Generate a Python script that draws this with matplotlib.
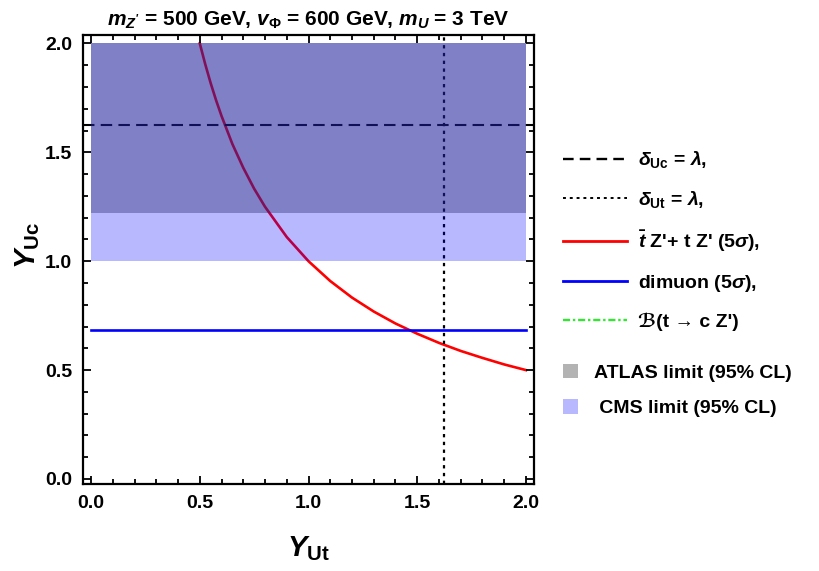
import numpy as np
import matplotlib
matplotlib.use("Agg")
import matplotlib.pyplot as plt
from matplotlib.lines import Line2D
from matplotlib.patches import Patch
from matplotlib.ticker import MultipleLocator

plt.rcParams['font.family'] = ['Liberation Sans', 'DejaVu Sans']
plt.rcParams['font.weight'] = 'bold'
plt.rcParams['mathtext.fontset'] = 'custom'
plt.rcParams['mathtext.rm'] = 'Liberation Sans:bold'
plt.rcParams['mathtext.bf'] = 'Liberation Sans:bold'
plt.rcParams['mathtext.it'] = 'Liberation Sans:italic:bold'
plt.rcParams['mathtext.sf'] = 'Liberation Sans:bold'
plt.rcParams['mathtext.cal'] = 'DejaVu Sans:italic'

# ---- data ----
red_x = [0.5, 0.525, 0.55, 0.575, 0.6, 0.65, 0.7, 0.75, 0.8, 0.9, 1.0, 1.1, 1.2,
         1.3, 1.4, 1.5, 1.6, 1.7, 1.8, 1.9, 2.0]
red_y = [2.0, 1.905, 1.818, 1.739, 1.667, 1.538, 1.429, 1.333, 1.25, 1.111, 1.0,
         0.909, 0.833, 0.769, 0.714, 0.667, 0.625, 0.588, 0.556, 0.526, 0.5]
dimuon_y = 0.685
delta_uc = 1.625
delta_ut = 1.625
cms_band = (1.0, 2.0)
atlas_band = (1.22, 2.0)
band_x = (0.0, 2.0)
xticks = [0.0, 0.5, 1.0, 1.5, 2.0]
yticks = [0.0, 0.5, 1.0, 1.5, 2.0]

fig = plt.figure(figsize=(8.19, 5.71), dpi=100)
ax = fig.add_axes([83/819, 1-484/571, (534-83)/819, (484-34.5)/571])
ax.set_xlim(-0.037, 2.037)
ax.set_ylim(-0.023, 2.041)

# lines (drawn beneath shading)
ax.plot(red_x, red_y, color='red', lw=1.9, zorder=1)
ax.axhline(delta_uc, color='black', lw=1.5, ls=(0, (5.5, 3)), zorder=1)
ax.axvline(delta_ut, color='black', lw=1.6, ls=(0, (1.5, 2)), zorder=1)

# shading
ax.fill_between(band_x, cms_band[0], cms_band[1], color=(0, 0, 1), alpha=0.28, lw=0, zorder=2)
ax.fill_between(band_x, atlas_band[0], atlas_band[1], color=(44/255, 44/255, 117/255),
                alpha=0.4, lw=0, zorder=3)

ax.plot(band_x, [dimuon_y, dimuon_y], color=(0, 0, 1), lw=1.9, zorder=4)

# ticks
ax.set_xticks(xticks)
ax.set_yticks(yticks)
ax.set_xticklabels([f"{t:.1f}" for t in xticks])
ax.set_yticklabels([f"{t:.1f}" for t in yticks])
ax.xaxis.set_minor_locator(MultipleLocator(0.1))
ax.yaxis.set_minor_locator(MultipleLocator(0.1))
ax.tick_params(which='both', direction='in', top=True, right=True, width=1.3)
ax.tick_params(which='major', length=6, labelsize=14, pad=8)
ax.tick_params(which='minor', length=3.5)
for lab in ax.get_xticklabels() + ax.get_yticklabels():
    lab.set_fontweight('bold')
for s in ax.spines.values():
    s.set_linewidth(1.6)

ax.set_title(r"$m_{Z'}$ = 500 GeV, $v_{\Phi}$ = 600 GeV, $m_{U}$ = 3 TeV",
             fontsize=15, fontweight='bold', pad=6)
ax.set_xlabel(r"$Y_{\mathbf{Ut}}$", fontsize=21, labelpad=16)
ax.set_ylabel(r"$Y_{\mathbf{Uc}}$", fontsize=21, labelpad=4)
ax.yaxis.set_label_coords(-0.09, 0.53)

handles = [
    Line2D([], [], color='black', lw=1.7, ls=(0, (4.5, 2.6))),
    Line2D([], [], color='black', lw=1.4, ls=(0, (1.5, 2))),
    Line2D([], [], color='red', lw=2),
    Line2D([], [], color=(0, 0, 1), lw=2),
    Line2D([], [], color=(0.2, 0.9, 0.2), lw=1.7, ls=(0, (3, 1.2, 1, 1.2))),
]
labels = [
    r"$\delta_{\mathbf{Uc}}$ = $\lambda$,",
    r"$\delta_{\mathbf{Ut}}$ = $\lambda$,",
    r"$\bar{t}$ Z'+ t Z' (5$\sigma$),",
    r"dimuon (5$\sigma$),",
    "\u212C(t \u2192 c Z')",
]
leg1 = fig.legend(handles, labels, loc='upper left', bbox_to_anchor=(545/819, 1-132/571),
                  frameon=False, handlelength=3.3, handletextpad=0.6,
                  labelspacing=0.96, prop={'weight': 'bold', 'size': 14})
handles2 = [Patch(facecolor=(0.7, 0.7, 0.7), edgecolor='none'),
            Patch(facecolor=(0.72, 0.72, 1.0), edgecolor='none')]
labels2 = ["ATLAS limit (95% CL)", " CMS limit (95% CL)"]
leg2 = fig.legend(handles2, labels2, loc='upper left', bbox_to_anchor=(545/819, 1-346/571),
                  frameon=False, handlelength=0.8, handleheight=0.8, handletextpad=0.8,
                  labelspacing=0.9, prop={'weight': 'bold', 'size': 14})

fig.savefig("out.png", dpi=100)
